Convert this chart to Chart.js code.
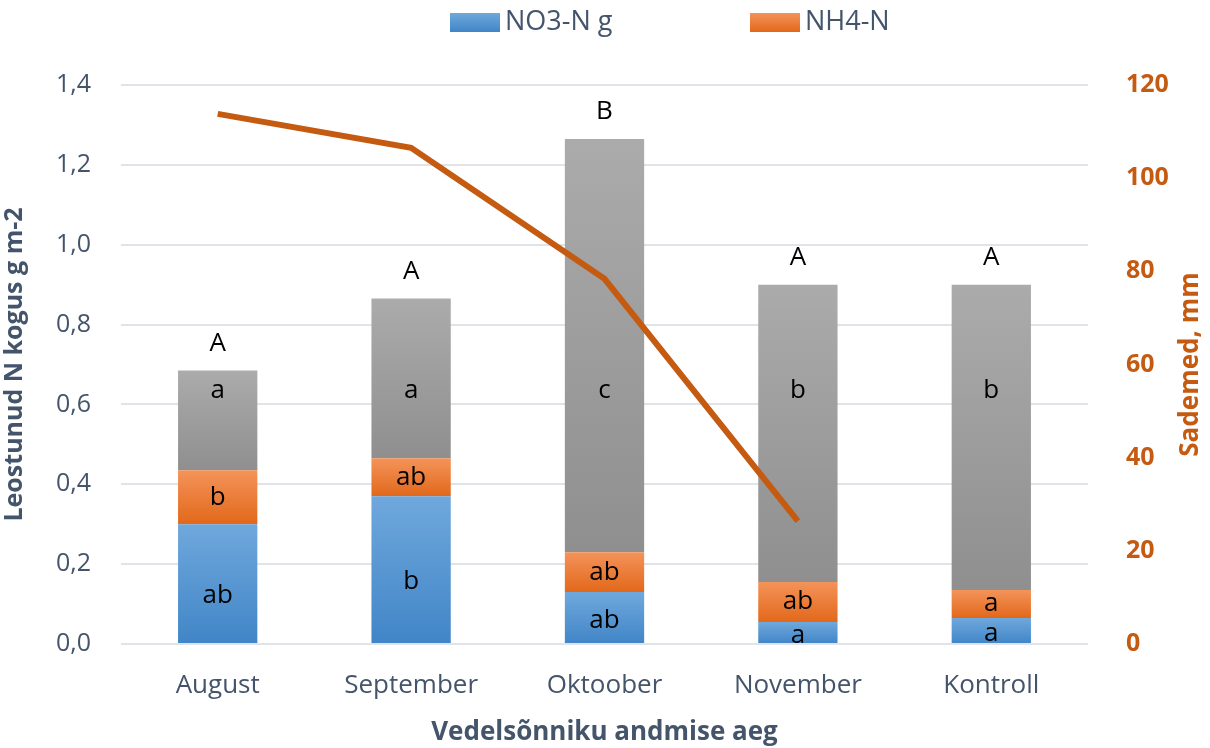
<!DOCTYPE html>
<html>
<head>
<meta charset="utf-8">
<script src="https://cdn.jsdelivr.net/npm/chart.js@4.4.0/dist/chart.umd.min.js"></script>
<style>
  html, body { margin: 0; padding: 0; background: #fff; }
  #wrap { width: 1210px; height: 748px; position: relative; }
</style>
</head>
<body>
<div id="wrap"><canvas id="nChart"></canvas></div>
<script>
const categories = ["August", "September", "Oktoober", "November", "Kontroll"];
const no3 = [0.30, 0.37, 0.13, 0.055, 0.065];
const nh4 = [0.135, 0.095, 0.10, 0.10, 0.07];
const rest = [0.25, 0.40, 1.035, 0.745, 0.765];
const rain = [113.8, 106.5, 78.4, 26.4, null];

const no3Letters = ["ab", "b", "ab", "a", "a"];
const nh4Letters = ["b", "ab", "ab", "ab", "a"];
const restLetters = ["a", "a", "c", "b", "b"];
const topLetters = ["A", "A", "B", "A", "A"];

const leftTicks = [0, 0.2, 0.4, 0.6, 0.8, 1.0, 1.2, 1.4];
const rightTicks = [0, 20, 40, 60, 80, 100, 120];

const FONT = "'Open Sans'";
const TXT = "#44546A";
const ORANGE = "#C55A11";

// gradient per segment, top lighter than bottom
function segGradient(topCol, botCol, lower) {
  return function (context) {
    const chart = context.chart;
    const y = chart.scales.y;
    if (!chart.chartArea || !y) return botCol;
    const i = context.dataIndex;
    const base = lower.reduce((s, arr) => s + (arr[i] || 0), 0);
    const val = context.dataset.data[i] || 0;
    const yTop = y.getPixelForValue(base + val);
    const yBot = y.getPixelForValue(base);
    if (!isFinite(yTop) || !isFinite(yBot) || yTop === yBot) return botCol;
    const g = chart.ctx.createLinearGradient(0, yTop, 0, yBot);
    g.addColorStop(0, topCol);
    g.addColorStop(1, botCol);
    return g;
  };
}

const letterPlugin = {
  id: "letters",
  afterDatasetsDraw(chart) {
    const ctx = chart.ctx;
    const y = chart.scales.y;
    ctx.save();
    ctx.font = "26px " + FONT;
    ctx.fillStyle = "#000";
    ctx.textAlign = "center";
    ctx.textBaseline = "middle";
    const m0 = chart.getDatasetMeta(1).data;
    const m1 = chart.getDatasetMeta(2).data;
    const m2 = chart.getDatasetMeta(3).data;
    categories.forEach((c, i) => {
      const b0 = m0[i], b1 = m1[i], b2 = m2[i];
      const h0 = b0.base - b0.y;
      ctx.fillText(no3Letters[i], b0.x, (b0.y + b0.base) / 2 + (h0 > 80 ? 12 : 3));
      ctx.fillText(nh4Letters[i], b1.x, (b1.y + b1.base) / 2);
      ctx.fillText(restLetters[i], b2.x, y.getPixelForValue(0.63) - 2);
      ctx.fillText(topLetters[i], b2.x, b2.y - 27);
    });
    ctx.restore();
  },
};

// legend (two entries) + right axis title drawn by hand
const extrasPlugin = {
  id: "extras",
  afterDraw(chart) {
    const ctx = chart.ctx;
    ctx.save();
    const items = [
      { ds: 1, x: 450, top: "#6FA8DC", bot: "#4185C7" },
      { ds: 2, x: 750, top: "#F4935A", bot: "#E2681A" },
    ];
    items.forEach((it) => {
      const g = ctx.createLinearGradient(0, 13, 0, 32);
      g.addColorStop(0, it.top);
      g.addColorStop(1, it.bot);
      ctx.fillStyle = g;
      ctx.fillRect(it.x, 13, 50, 19);
      ctx.fillStyle = TXT;
      ctx.font = "27px " + FONT;
      ctx.textAlign = "left";
      ctx.textBaseline = "middle";
      ctx.fillText(chart.data.datasets[it.ds].label, it.x + 55, 22);
    });
    const area = chart.chartArea;
    ctx.translate(1191, (area.top + area.bottom) / 2);
    ctx.rotate(-Math.PI / 2);
    ctx.fillStyle = ORANGE;
    ctx.font = "bold 26px " + FONT;
    ctx.textAlign = "center";
    ctx.textBaseline = "middle";
    ctx.fillText("Sademed, mm", 0, 0);
    ctx.restore();
  },
};

new Chart(document.getElementById("nChart"), {
  data: {
    labels: categories,
    datasets: [
      {
        type: "line",
        label: "Sademed",
        data: rain,
        yAxisID: "y1",
        borderColor: ORANGE,
        borderWidth: 6,
        pointRadius: 0,
        tension: 0,
        fill: false,
        order: 0,
      },
      {
        type: "bar",
        label: "NO3-N g",
        data: no3,
        backgroundColor: segGradient("#6FA8DC", "#4185C7", []),
        stack: "n",
        order: 1,
      },
      {
        type: "bar",
        label: "NH4-N",
        data: nh4,
        backgroundColor: segGradient("#F4935A", "#E2681A", [no3]),
        stack: "n",
        order: 1,
      },
      {
        type: "bar",
        label: "muu",
        data: rest,
        backgroundColor: segGradient("#ABABAB", "#8F8F8F", [no3, nh4]),
        stack: "n",
        order: 1,
      },
    ],
  },
  options: {
    responsive: true,
    maintainAspectRatio: false,
    animation: false,
    datasets: { bar: { categoryPercentage: 1, barPercentage: 0.41 } },
    layout: { padding: { top: 85, bottom: 0, left: 0, right: 0 } },
    plugins: {
      legend: { display: false },
      tooltip: { enabled: false },
    },
    scales: {
      x: {
        grid: { display: false },
        border: { display: false },
        ticks: { color: TXT, font: { family: FONT, size: 26 }, padding: 18 },
        title: {
          display: true,
          text: "Vedelsõnniku andmise aeg",
          color: TXT,
          font: { family: FONT, size: 26, weight: "bold" },
          padding: { top: 0, bottom: 0 },
        },
        afterFit: (s) => { s.height = 104; },
      },
      y: {
        stacked: true,
        position: "left",
        min: 0,
        max: 1.4,
        afterBuildTicks: (s) => { s.ticks = leftTicks.map((v) => ({ value: v })); },
        grid: { color: "#E0E3E8", lineWidth: 2, drawTicks: false },
        border: { display: false },
        ticks: {
          color: TXT,
          font: { family: FONT, size: 25 },
          padding: 30,
          callback: (v) => v.toFixed(1).replace(".", ","),
        },
        title: {
          display: true,
          text: "Leostunud N kogus g m-2",
          color: TXT,
          font: { family: FONT, size: 25, weight: "bold" },
          padding: { top: 0, bottom: 0 },
        },
        afterFit: (s) => { s.width = 121; },
      },
      y1: {
        position: "right",
        min: 0,
        max: 120,
        afterBuildTicks: (s) => { s.ticks = rightTicks.map((v) => ({ value: v })); },
        grid: { display: false },
        border: { display: false },
        ticks: {
          color: ORANGE,
          font: { family: FONT, size: 25, weight: "bold" },
          padding: 30,
        },
        afterFit: (s) => { s.width = 122; },
      },
    },
  },
  plugins: [letterPlugin, extrasPlugin],
});
</script>
</body>
</html>
